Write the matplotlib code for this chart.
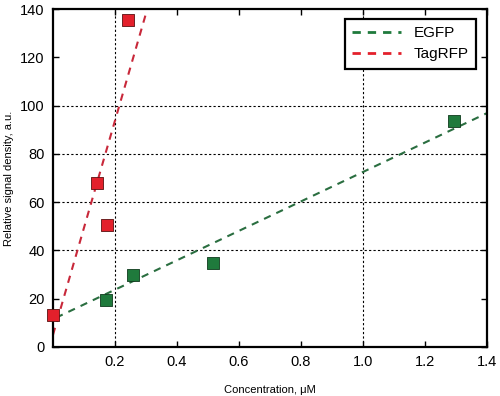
import numpy as np
import matplotlib
matplotlib.use("Agg")
import matplotlib.pyplot as plt

plt.rcParams['font.family'] = ['Liberation Sans', 'DejaVu Sans']

# measured points
egfp_x = [0.17, 0.257, 0.515, 1.295]
egfp_y = [19.5, 29.8, 34.8, 93.5]
tag_x = [0.0, 0.142, 0.174, 0.242]
tag_y = [13.2, 67.9, 50.5, 135.5]

# linear fits (intercept, slope) and drawn range
egfp_fit = (11.5, 61.0)
egfp_range = [0.01, 1.4]
tag_fit = (5.0, 444.0)
tag_range = [0.0, 0.305]

x_ticks = [0.2, 0.4, 0.6, 0.8, 1.0, 1.2, 1.4]
y_ticks = [0, 20, 40, 60, 80, 100, 120, 140]

green = '#1f7a3c'
red = '#e3202b'

fig = plt.figure(figsize=(5.0, 3.96), dpi=100)
ax = fig.add_axes([0.106, 0.124, 0.868, 0.853])

# partial grid as in the original
for gx in [0.2, 1.0]:
    ax.axvline(gx, color='black', linestyle=(0, (2, 2)), linewidth=0.8, zorder=1)
for gy in [40, 60, 80, 100]:
    ax.axhline(gy, color='black', linestyle=(0, (2, 2)), linewidth=0.8, zorder=1)

xe = np.array(egfp_range)
ax.plot(xe, egfp_fit[0] + egfp_fit[1] * xe, color='#2a6e40', linestyle=(0, (3.5, 3)),
        linewidth=1.5, label='EGFP', zorder=2)
xt = np.array(tag_range)
ax.plot(xt, tag_fit[0] + tag_fit[1] * xt, color='#c8283a', linestyle=(0, (3.5, 3)),
        linewidth=1.5, label='TagRFP', zorder=2)

ax.scatter(egfp_x, egfp_y, marker='s', s=64, color=green, edgecolors='#0f3a1c',
           linewidths=0.6, zorder=3, clip_on=False)
ax.scatter(tag_x, tag_y, marker='s', s=64, color=red, edgecolors='#5a1010',
           linewidths=0.6, zorder=3, clip_on=False)

ax.set_xlim(0, 1.4)
ax.set_ylim(0, 140)
ax.set_xticks(x_ticks)
ax.set_xticklabels(['%.1f' % v for v in x_ticks])
ax.set_yticks(y_ticks)
ax.tick_params(direction='in', top=True, right=True, length=4, width=1,
               labelsize=10.5, pad=6)
for s in ax.spines.values():
    s.set_linewidth(1.6)

ax.set_xlabel('Concentration, μM', fontsize=8, labelpad=11)
ax.set_ylabel('Relative signal density, a.u.', fontsize=8, labelpad=4)

handles = [
    plt.Line2D([], [], color='#1f7a3c', linestyle=(0, (3, 2.5)), linewidth=2),
    plt.Line2D([], [], color='#e3202b', linestyle=(0, (3, 2.5)), linewidth=2),
]
leg = ax.legend(handles, ['EGFP', 'TagRFP'], loc='upper right', fontsize=11,
                fancybox=False, framealpha=1, edgecolor='black',
                handlelength=3.2, borderpad=0.5, labelspacing=0.45,
                borderaxespad=0.3, bbox_to_anchor=(0.985, 0.985))
leg.get_frame().set_linewidth(1.6)

fig.savefig('out.png', dpi=100)
